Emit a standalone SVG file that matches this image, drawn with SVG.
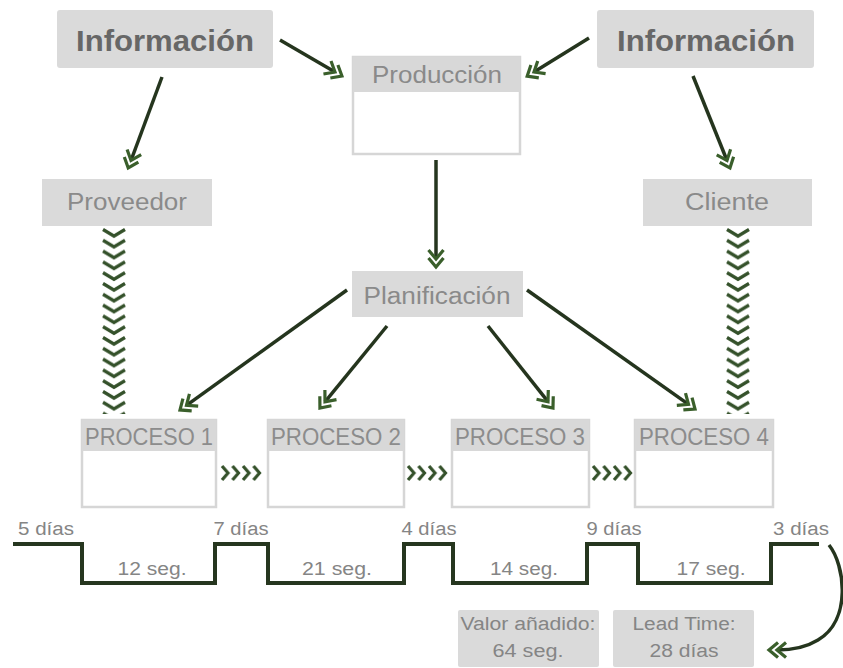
<svg xmlns="http://www.w3.org/2000/svg" width="843" height="668" viewBox="0 0 843 668">
  <style>
    .box { fill: #dadada; }
    .frame { fill: #ffffff; stroke: #d6d6d6; stroke-width: 2.5; }
    .head { fill: #d8d8d8; }
    .info { font-family: "Liberation Sans", Arial, sans-serif; font-weight: bold; font-size: 30px; fill: #676767; }
    .lbl { font-family: "Liberation Sans", Arial, sans-serif; font-size: 23px; fill: #8a8a8a; }
    .proc { font-family: "Liberation Sans", Arial, sans-serif; font-size: 24px; fill: #8c8c8c; }
    .small { font-family: "Liberation Sans", Arial, sans-serif; font-size: 18px; fill: #858585; }
    .flow { fill: none; stroke: #25351e; stroke-width: 3.5; stroke-linecap: butt; marker-end: url(#dbl); }
    .timeline { fill: none; stroke: #26361f; stroke-width: 4; stroke-linejoin: miter; }
  </style>
  <defs>
    <!-- double open chevron head: the line ends at the rear chevron, the front one leads by 8 -->
    <marker id="dbl" viewBox="-12 -10 24 20" refX="0" refY="0" markerWidth="24" markerHeight="20" markerUnits="userSpaceOnUse" orient="auto" overflow="visible">
      <path d="M-9,-7.5 L0,0 L-9,7.5 M-1,-7.5 L8,0 L-1,7.5" fill="none" stroke="#3a5f2b" stroke-width="3.2" stroke-linejoin="miter"/>
    </marker>
    <!-- downward chevron column (material flow) -->
    <pattern id="chevDown" width="28" height="10.8" patternUnits="userSpaceOnUse">
      <path d="M3,1.5 L14,8 L25,1.5" fill="none" stroke="#34512a" stroke-width="3.4"/>
    </pattern>
    <!-- rightward push chevrons between processes -->
    <pattern id="chevRight" width="10.5" height="18" patternUnits="userSpaceOnUse">
      <path d="M2,2 L8,9 L2,16" fill="none" stroke="#34512a" stroke-width="3.2"/>
    </pattern>
  </defs>

  <!-- connectors -->
  <g id="connectors">
    <line class="flow" x1="280" y1="40" x2="335" y2="72"/>
    <line class="flow" x1="162" y1="77" x2="131" y2="160.5"/>
    <line class="flow" x1="589" y1="38" x2="534" y2="72"/>
    <line class="flow" x1="693" y1="76" x2="727" y2="160.5"/>
    <line class="flow" x1="436" y1="160" x2="436" y2="259"/>
    <line class="flow" x1="347" y1="290" x2="186.5" y2="405.3"/>
    <line class="flow" x1="387" y1="326" x2="325" y2="401.8"/>
    <line class="flow" x1="488" y1="326" x2="548" y2="401.7"/>
    <line class="flow" x1="527" y1="290" x2="688.5" y2="404.4"/>

    <!-- supplier / customer material flow -->
    <rect transform="translate(100,228)" width="28" height="186" fill="url(#chevDown)"/>
    <rect transform="translate(724,228)" width="28" height="186" fill="url(#chevDown)"/>

    <!-- push between processes -->
    <rect transform="translate(220,464)" width="42" height="18" fill="url(#chevRight)"/>
    <rect transform="translate(406,464)" width="42" height="18" fill="url(#chevRight)"/>
    <rect transform="translate(591,464)" width="42" height="18" fill="url(#chevRight)"/>

    <!-- lead time return arrow -->
    <path class="flow" d="M829,545 C845,565 852,620 818,640 C805,648 792,650 777,650" stroke-width="4"/>
  </g>

  <!-- top information sources -->
  <g id="info-left">
    <rect class="box" x="57" y="10" width="216" height="58" rx="3"/>
    <text class="info" x="165" y="51" text-anchor="middle" textLength="178" lengthAdjust="spacingAndGlyphs">Información</text>
  </g>
  <g id="info-right">
    <rect class="box" x="597" y="10" width="217" height="58" rx="3"/>
    <text class="info" x="706" y="51" text-anchor="middle" textLength="178" lengthAdjust="spacingAndGlyphs">Información</text>
  </g>

  <g id="produccion">
    <rect class="frame" x="353" y="57" width="167" height="97"/>
    <rect class="head" x="353" y="57" width="167" height="35"/>
    <text class="lbl" x="437" y="83" text-anchor="middle" textLength="130" lengthAdjust="spacingAndGlyphs">Producción</text>
  </g>

  <g id="proveedor">
    <rect class="box" x="42" y="179" width="170" height="47"/>
    <text class="lbl" x="127" y="210" text-anchor="middle" textLength="120" lengthAdjust="spacingAndGlyphs">Proveedor</text>
  </g>

  <g id="cliente">
    <rect class="box" x="643" y="179" width="169" height="47"/>
    <text class="lbl" x="727" y="210" text-anchor="middle" textLength="84" lengthAdjust="spacingAndGlyphs">Cliente</text>
  </g>

  <g id="planificacion">
    <rect class="box" x="352" y="271" width="171" height="46"/>
    <text class="lbl" x="437" y="304" text-anchor="middle" textLength="147" lengthAdjust="spacingAndGlyphs">Planificación</text>
  </g>

  <!-- processes -->
  <g id="proceso-1">
    <rect class="frame" x="82" y="420" width="134" height="87"/>
    <rect class="head" x="82" y="420" width="134" height="31"/>
    <text class="proc" x="149" y="445" text-anchor="middle" textLength="128" lengthAdjust="spacingAndGlyphs">PROCESO 1</text>
  </g>
  <g id="proceso-2">
    <rect class="frame" x="268" y="420" width="136" height="87"/>
    <rect class="head" x="268" y="420" width="136" height="31"/>
    <text class="proc" x="336" y="445" text-anchor="middle" textLength="130" lengthAdjust="spacingAndGlyphs">PROCESO 2</text>
  </g>
  <g id="proceso-3">
    <rect class="frame" x="452" y="420" width="137" height="87"/>
    <rect class="head" x="452" y="420" width="137" height="31"/>
    <text class="proc" x="520" y="445" text-anchor="middle" textLength="130" lengthAdjust="spacingAndGlyphs">PROCESO 3</text>
  </g>
  <g id="proceso-4">
    <rect class="frame" x="635" y="420" width="138" height="87"/>
    <rect class="head" x="635" y="420" width="138" height="31"/>
    <text class="proc" x="704" y="445" text-anchor="middle" textLength="130" lengthAdjust="spacingAndGlyphs">PROCESO 4</text>
  </g>

  <!-- time line -->
  <g id="timeline">
    <path class="timeline" d="M13,544 H82 V583 H215 V544 H268 V583 H404 V544 H453 V583 H587 V544 H638 V583 H771 V544 H819"/>
    <text class="small" x="46" y="535" text-anchor="middle" textLength="56" lengthAdjust="spacingAndGlyphs">5 días</text>
    <text class="small" x="241" y="535" text-anchor="middle" textLength="55" lengthAdjust="spacingAndGlyphs">7 días</text>
    <text class="small" x="429" y="535" text-anchor="middle" textLength="55" lengthAdjust="spacingAndGlyphs">4 días</text>
    <text class="small" x="614" y="535" text-anchor="middle" textLength="55" lengthAdjust="spacingAndGlyphs">9 días</text>
    <text class="small" x="801" y="535" text-anchor="middle" textLength="56" lengthAdjust="spacingAndGlyphs">3 días</text>
    <text class="small" x="152" y="575" text-anchor="middle" textLength="69" lengthAdjust="spacingAndGlyphs">12 seg.</text>
    <text class="small" x="337" y="575" text-anchor="middle" textLength="70" lengthAdjust="spacingAndGlyphs">21 seg.</text>
    <text class="small" x="524" y="575" text-anchor="middle" textLength="68" lengthAdjust="spacingAndGlyphs">14 seg.</text>
    <text class="small" x="711" y="575" text-anchor="middle" textLength="69" lengthAdjust="spacingAndGlyphs">17 seg.</text>
  </g>

  <!-- totals -->
  <g id="valor-anadido">
    <rect class="box" x="458" y="610" width="141" height="57" rx="2"/>
    <text class="small" x="528" y="630" text-anchor="middle" textLength="135" lengthAdjust="spacingAndGlyphs">Valor añadido:</text>
    <text class="small" x="528" y="657" text-anchor="middle" textLength="71" lengthAdjust="spacingAndGlyphs">64 seg.</text>
  </g>
  <g id="lead-time">
    <rect class="box" x="613" y="610" width="141" height="57" rx="2"/>
    <text class="small" x="684" y="630" text-anchor="middle" textLength="103" lengthAdjust="spacingAndGlyphs">Lead Time:</text>
    <text class="small" x="684" y="657" text-anchor="middle" textLength="69" lengthAdjust="spacingAndGlyphs">28 días</text>
  </g>
</svg>
